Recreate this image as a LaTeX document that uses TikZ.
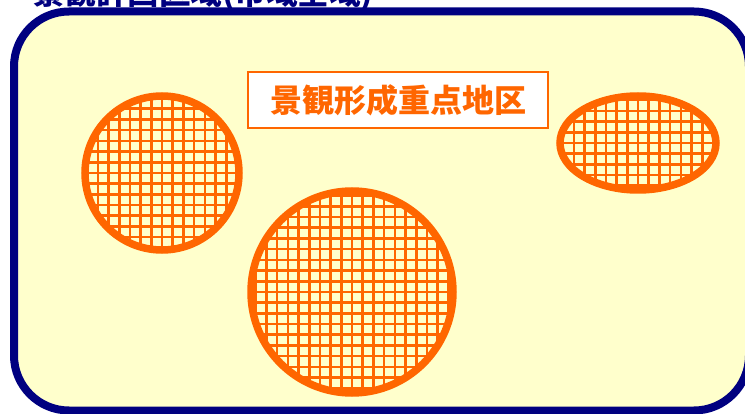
\documentclass[tikz,border=0pt]{standalone}
\usepackage{fontspec}
\newfontfamily\cjk{Noto Sans CJK JP}
\definecolor{navyb}{HTML}{000080}
\definecolor{paleyel}{HTML}{FFFFCC}
\definecolor{orng}{HTML}{FF6600}
\tikzset{
  zoneline/.style={draw=orng, line width=7.5pt},
  gridline/.style={draw=orng, line width=2.6pt},
  labelbox/.style={draw=orng, line width=1.6pt, fill=white, minimum width=300pt, minimum height=56pt, inner sep=0pt},
}
\begin{document}
\begin{tikzpicture}[x=1pt,y=-1pt]
\useasboundingbox (0,0) rectangle (745,414);
\clip (0,0) rectangle (745,414);
\fill[white] (0,0) rectangle (745,414);
% area
\draw[navyb, line width=8pt, fill=paleyel, rounded corners=55pt] (14,11.5) rectangle (749,410.5);
\node[navyb, font=\cjk\bfseries\fontsize{31.5}{31.5}\selectfont, anchor=base west, inner sep=0pt] (title) at (33,5) {景観計画区域(市域全域)};
% zone 1
\begin{scope}
\clip (162,173) circle (80);
\foreach \i in {-8,...,8} {
  \draw[gridline] (162+\i*10.7,80) -- (162+\i*10.7,260);
  \draw[gridline] (70,173+\i*10.7) -- (250,173+\i*10.7);
}
\end{scope}
\draw[zoneline] (162,173) circle (77) coordinate (z1);
% zone 2
\begin{scope}
\clip (352,292) circle (104);
\foreach \i in {-10,...,10} {
  \draw[gridline] (352+\i*10.7,180) -- (352+\i*10.7,400);
  \draw[gridline] (240,292+\i*10.7) -- (460,292+\i*10.7);
}
\end{scope}
\draw[zoneline] (352,292) circle (101) coordinate (z2);
% zone 3
\begin{scope}
\clip (638,143) ellipse (81 and 50);
\foreach \i in {-8,...,8} {
  \draw[gridline] (638+\i*10.7,85) -- (638+\i*10.7,200);
  \draw[gridline] (550,143+\i*10.7) -- (725,143+\i*10.7);
}
\end{scope}
\draw[zoneline] (638,143) ellipse (78 and 47) coordinate (z3);
% label
\node[labelbox, text=orng, font=\cjk\bfseries\fontsize{32}{32}\selectfont] (lab) at (398,100) {景観形成重点地区};
\end{tikzpicture}
\end{document}
